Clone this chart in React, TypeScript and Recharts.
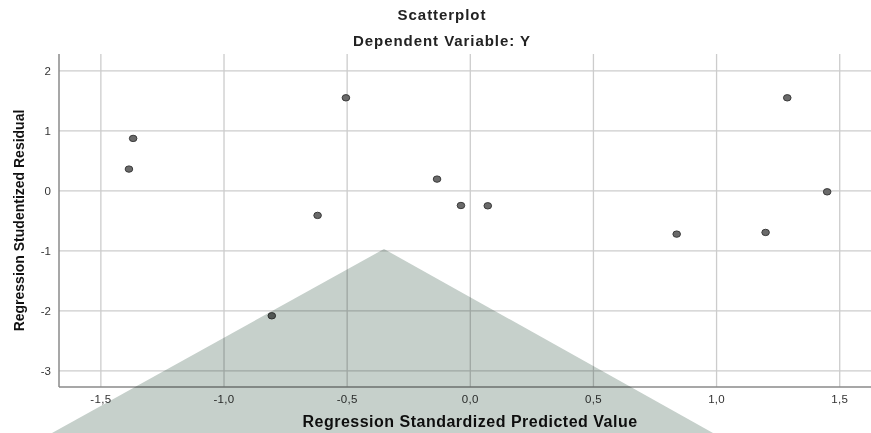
import { CartesianGrid, Label, Scatter, ScatterChart, XAxis, YAxis } from 'recharts';

const predicted = [-1.369, -1.386, -0.806, -0.62, -0.505, -0.135, -0.038, 0.071, 0.838, 1.199, 1.287, 1.449];
const residual = [0.873, 0.362, -2.083, -0.41, 1.55, 0.195, -0.245, -0.25, -0.722, -0.694, 1.55, -0.017];

const xTicks = [-1.5, -1.0, -0.5, 0, 0.5, 1.0, 1.5];
const yTicks = [-3, -2, -1, 0, 1, 2];

const points = predicted.map((x, i) => ({ x, y: residual[i] }));

const font = '"Liberation Sans", Arial, sans-serif';

const dot = (props: any) => (
  <ellipse cx={props.cx} cy={props.cy} rx={3.8} ry={3.2} fill="#6a6a6a" stroke="#3a3a3a" strokeWidth={1} />
);

const titleStyle = {
  position: 'absolute' as const,
  left: 0,
  width: 884,
  textAlign: 'center' as const,
  fontSize: 15,
  letterSpacing: 0.95,
  fontWeight: 'bold' as const,
  color: '#222',
};

export default function App() {
  return (
    <div style={{ position: 'absolute', left: 0, top: 0, width: 871, height: 433, background: '#fff', fontFamily: font, overflow: 'hidden' }}>
      <div style={{ ...titleStyle, top: 6 }}>Scatterplot</div>
      <div style={{ ...titleStyle, top: 32 }}>Dependent Variable: Y</div>
      <ScatterChart width={871} height={433} margin={{ top: 54, right: 0, bottom: 0, left: 0 }} style={{ fontFamily: font }}>
        <CartesianGrid stroke="#cccccc" strokeWidth={1.3} horizontalValues={yTicks} verticalValues={xTicks} />
        <XAxis
          type="number"
          dataKey="x"
          domain={[-1.67, 1.627]}
          ticks={xTicks}
          tickFormatter={(v: number) => v.toFixed(1).replace('.', ',')}
          height={46}
          axisLine={{ stroke: '#8a8a8a', strokeWidth: 1.5 }}
          tickLine={false}
          tick={{ fill: '#333', fontSize: 11.5, letterSpacing: 0.3 }}
        >
          <Label value="Regression Standardized Predicted Value" position="center" dx={5} dy={11} style={{ fontSize: 16, letterSpacing: 0.5, fontWeight: 'bold', fill: '#111' }} />
        </XAxis>
        <YAxis
          type="number"
          dataKey="y"
          domain={[-3.27, 2.28]}
          ticks={yTicks}
          width={59}
          axisLine={{ stroke: '#8a8a8a', strokeWidth: 1.5 }}
          tickLine={false}
          tick={{ fill: '#333', fontSize: 11.5 }}
        >
          <Label value="Regression Studentized Residual" angle={-90} position="center" dx={-10} style={{ fontSize: 14, fontWeight: 'bold', fill: '#111', textAnchor: 'middle' }} />
        </YAxis>
        <Scatter data={points} shape={dot} isAnimationActive={false} />
      </ScatterChart>
      <svg width={871} height={433} style={{ position: 'absolute', left: 0, top: 0, mixBlendMode: 'multiply', pointerEvents: 'none' }}>
        <polygon points="52,433 384,249 713,433" fill="#c6d0cb" />
      </svg>
    </div>
  );
}
